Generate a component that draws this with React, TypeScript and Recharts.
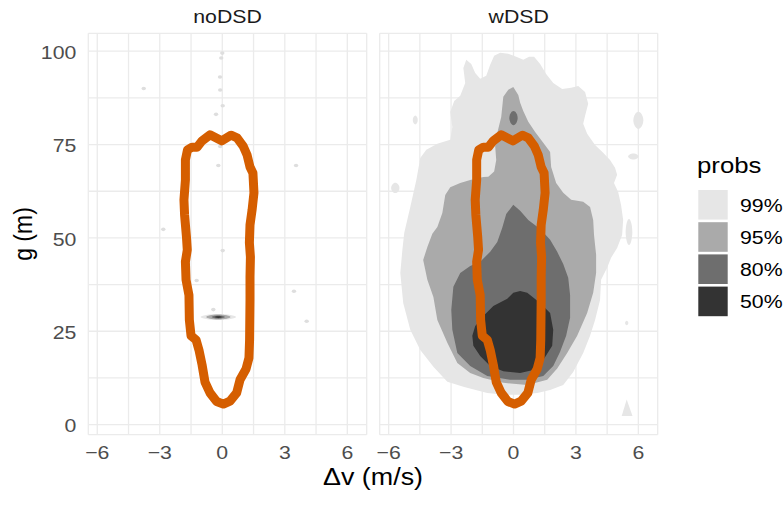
import React from 'react';
import { ComposedChart, Scatter, XAxis, YAxis, CartesianGrid, Curve } from 'recharts';

// ---------- data ----------
const facetNames = ['noDSD', 'wDSD'];
const xTicks = [-6, -4.5, -3, -1.5, 0, 1.5, 3, 4.5, 6];
const xLabelTicks = [-6, -3, 0, 3, 6];
const yTicks = [0, 12.5, 25, 37.5, 50, 62.5, 75, 87.5, 100];
const yLabelTicks = [0, 25, 50, 75, 100];
const xDomain = [-6.43, 6.93];
const yDomain = [-2.7, 104.8];
const xTitle = '\u0394v (m/s)';
const yTitle = 'g (m)';
const legendTitle = 'probs';
const probLevels = ['99%', '95%', '80%', '50%'];
const probColors = ['#E6E6E6', '#AAAAAA', '#6E6E6E', '#333333'];
const contourColor = '#D55E00';

// orange reference contour (same in both facets)
const refContour = [
  { x: -0.59, y: 77.6 }, { x: -0.03, y: 76.0 }, { x: 0.42, y: 77.5 }, { x: 0.71, y: 76.8 },
  { x: 1.01, y: 74.5 }, { x: 1.19, y: 72.2 }, { x: 1.33, y: 69.0 }, { x: 1.47, y: 67.4 },
  { x: 1.52, y: 62.1 }, { x: 1.43, y: 57.5 }, { x: 1.33, y: 53.5 }, { x: 1.30, y: 48.7 },
  { x: 1.35, y: 44.9 }, { x: 1.33, y: 39.6 }, { x: 1.33, y: 33.4 }, { x: 1.31, y: 22.7 },
  { x: 1.28, y: 17.9 }, { x: 1.14, y: 14.9 }, { x: 0.85, y: 12.0 }, { x: 0.69, y: 8.5 },
  { x: 0.37, y: 6.3 }, { x: 0.05, y: 5.5 }, { x: -0.27, y: 6.2 }, { x: -0.59, y: 8.5 },
  { x: -0.83, y: 11.4 }, { x: -0.97, y: 16.0 }, { x: -1.12, y: 20.0 }, { x: -1.26, y: 22.7 },
  { x: -1.50, y: 23.8 }, { x: -1.58, y: 28.0 }, { x: -1.60, y: 34.7 }, { x: -1.74, y: 38.8 },
  { x: -1.77, y: 43.6 }, { x: -1.68, y: 46.8 }, { x: -1.72, y: 50.3 }, { x: -1.81, y: 56.2 },
  { x: -1.84, y: 60.2 }, { x: -1.77, y: 65.5 }, { x: -1.77, y: 70.9 }, { x: -1.67, y: 73.6 },
  { x: -1.45, y: 74.3 }, { x: -1.21, y: 74.3 }, { x: -0.97, y: 76.0 },
];

// noDSD density: one narrow nested blob plus faint specks
const noDSD99 = [{ x: -1.47, y: 28.8 }, { x: -0.19, y: 30.0 }, { x: 1.09, y: 28.8 }, { x: -0.19, y: 27.6 }];
const noDSD95 = [{ x: -1.06, y: 28.8 }, { x: -0.19, y: 29.8 }, { x: 0.68, y: 28.8 }, { x: -0.19, y: 27.8 }];
const noDSD80 = [{ x: -0.66, y: 28.8 }, { x: -0.19, y: 29.45 }, { x: 0.28, y: 28.8 }, { x: -0.19, y: 28.15 }];
const noDSD50 = [{ x: -0.45, y: 28.8 }, { x: -0.19, y: 29.16 }, { x: 0.07, y: 28.8 }, { x: -0.19, y: 28.44 }];
const noDSDSpecks = [
  { x: 0.0, y: 99.5 }, { x: -0.05, y: 98.2 }, { x: -0.11, y: 93.1 }, { x: -0.1, y: 89.6 },
  { x: 0.02, y: 85.4 }, { x: -0.3, y: 83.1 }, { x: -0.1, y: 74.5 }, { x: -0.19, y: 69.4 },
  { x: 3.54, y: 69.4 }, { x: -2.83, y: 52.3 }, { x: 0.02, y: 46.6 }, { x: -3.77, y: 90.0 },
  { x: -1.23, y: 38.6 }, { x: 3.44, y: 35.7 }, { x: 4.05, y: 27.7 }, { x: -0.43, y: 30.8 },
];

// wDSD density regions
const wDSD99 = [
  { x: -2.27, y: 97.7 }, { x: -2.03, y: 96.6 }, { x: -1.84, y: 94.2 }, { x: -1.60, y: 92.6 },
  { x: -1.31, y: 93.4 }, { x: -1.12, y: 96.4 }, { x: -0.93, y: 98.8 }, { x: -0.64, y: 99.6 },
  { x: -0.25, y: 99.3 }, { x: 0.13, y: 98.5 }, { x: 0.47, y: 97.7 }, { x: 0.75, y: 98.5 },
  { x: 0.99, y: 98.5 }, { x: 1.28, y: 96.6 }, { x: 1.57, y: 93.9 }, { x: 1.91, y: 91.5 },
  { x: 2.34, y: 89.9 }, { x: 2.77, y: 90.2 }, { x: 3.11, y: 90.7 }, { x: 3.44, y: 89.1 },
  { x: 3.59, y: 85.9 }, { x: 3.44, y: 82.7 }, { x: 3.35, y: 80.6 }, { x: 3.54, y: 77.9 },
  { x: 3.92, y: 74.9 }, { x: 4.31, y: 72.8 }, { x: 4.64, y: 70.9 }, { x: 4.88, y: 68.8 },
  { x: 4.98, y: 66.9 }, { x: 4.83, y: 64.7 }, { x: 5.03, y: 62.3 }, { x: 5.17, y: 58.8 },
  { x: 5.27, y: 54.8 }, { x: 5.22, y: 50.8 }, { x: 4.98, y: 47.3 }, { x: 4.69, y: 44.7 },
  { x: 4.50, y: 42.0 }, { x: 4.21, y: 38.8 }, { x: 4.16, y: 33.4 }, { x: 3.92, y: 28.0 },
  { x: 3.68, y: 23.8 }, { x: 3.35, y: 19.2 }, { x: 2.87, y: 14.1 }, { x: 2.39, y: 10.6 },
  { x: 1.76, y: 9.3 }, { x: 1.14, y: 8.5 }, { x: 0.32, y: 8.0 }, { x: -0.40, y: 8.0 },
  { x: -1.26, y: 8.5 }, { x: -2.37, y: 10.1 }, { x: -3.18, y: 11.5 }, { x: -3.85, y: 15.5 },
  { x: -4.48, y: 20.0 }, { x: -4.96, y: 25.4 }, { x: -5.30, y: 32.6 }, { x: -5.44, y: 40.6 },
  { x: -5.34, y: 46.8 }, { x: -5.25, y: 51.4 }, { x: -4.96, y: 58.3 }, { x: -4.67, y: 65.5 },
  { x: -4.48, y: 71.4 }, { x: -4.19, y: 73.6 }, { x: -3.66, y: 75.2 }, { x: -3.04, y: 76.3 },
  { x: -2.94, y: 79.7 }, { x: -3.04, y: 83.7 }, { x: -2.85, y: 86.7 }, { x: -2.56, y: 88.1 },
  { x: -2.32, y: 91.5 }, { x: -2.41, y: 95.5 },
];
const wDSD95 = [
  { x: -0.01, y: 90.4 }, { x: 0.23, y: 88.3 }, { x: 0.32, y: 86.2 }, { x: 0.47, y: 84.0 },
  { x: 0.71, y: 81.1 }, { x: 1.04, y: 78.4 }, { x: 1.43, y: 75.5 }, { x: 1.76, y: 73.0 },
  { x: 1.81, y: 69.0 }, { x: 2.05, y: 64.7 }, { x: 2.39, y: 62.1 }, { x: 2.77, y: 60.2 },
  { x: 3.35, y: 59.7 }, { x: 3.68, y: 58.3 }, { x: 3.83, y: 54.8 }, { x: 3.87, y: 50.8 },
  { x: 3.97, y: 45.5 }, { x: 3.97, y: 40.6 }, { x: 3.83, y: 35.3 }, { x: 3.54, y: 29.9 },
  { x: 3.06, y: 23.8 }, { x: 2.58, y: 19.2 }, { x: 2.10, y: 15.0 }, { x: 1.62, y: 12.0 },
  { x: 0.66, y: 10.6 }, { x: -0.49, y: 11.2 }, { x: -1.45, y: 12.5 }, { x: -2.08, y: 13.8 },
  { x: -2.70, y: 16.5 }, { x: -3.18, y: 21.9 }, { x: -3.66, y: 28.0 }, { x: -3.85, y: 34.2 },
  { x: -4.14, y: 38.8 }, { x: -4.34, y: 44.1 }, { x: -4.14, y: 47.6 }, { x: -3.90, y: 51.1 },
  { x: -3.66, y: 52.9 }, { x: -3.42, y: 56.7 }, { x: -3.28, y: 61.5 }, { x: -3.04, y: 63.6 },
  { x: -2.56, y: 64.7 }, { x: -2.08, y: 65.5 }, { x: -1.45, y: 66.3 }, { x: -1.21, y: 66.4 },
  { x: -0.93, y: 67.8 }, { x: -0.83, y: 70.9 }, { x: -0.88, y: 74.5 }, { x: -0.78, y: 78.1 },
  { x: -0.59, y: 82.4 }, { x: -0.49, y: 87.8 }, { x: -0.25, y: 89.7 },
];
const wDSD80 = [
  { x: -0.01, y: 58.9 }, { x: 0.32, y: 57.3 }, { x: 0.71, y: 54.8 }, { x: 1.28, y: 52.4 },
  { x: 1.76, y: 49.5 }, { x: 2.10, y: 46.3 }, { x: 2.39, y: 43.0 }, { x: 2.63, y: 39.3 },
  { x: 2.72, y: 34.7 }, { x: 2.72, y: 28.6 }, { x: 2.53, y: 23.8 }, { x: 2.24, y: 19.5 },
  { x: 1.91, y: 15.7 }, { x: 1.43, y: 13.0 }, { x: 0.66, y: 12.0 }, { x: -0.16, y: 12.0 },
  { x: -1.26, y: 13.0 }, { x: -2.08, y: 15.7 }, { x: -2.70, y: 19.2 }, { x: -2.94, y: 25.4 },
  { x: -2.99, y: 30.7 }, { x: -2.89, y: 36.9 }, { x: -2.56, y: 40.6 }, { x: -2.08, y: 42.5 },
  { x: -1.60, y: 43.6 }, { x: -1.12, y: 46.3 }, { x: -0.78, y: 48.9 }, { x: -0.54, y: 52.7 },
  { x: -0.35, y: 56.4 },
];
const wDSD50 = [
  { x: -0.01, y: 35.3 }, { x: 0.32, y: 35.8 }, { x: 0.66, y: 35.3 }, { x: 1.28, y: 32.6 },
  { x: 1.76, y: 29.9 }, { x: 1.91, y: 25.4 }, { x: 1.86, y: 21.1 }, { x: 1.43, y: 17.3 },
  { x: 0.95, y: 14.6 }, { x: 0.32, y: 13.8 }, { x: -0.49, y: 14.3 }, { x: -1.12, y: 15.7 },
  { x: -1.60, y: 18.4 }, { x: -1.93, y: 21.1 }, { x: -1.98, y: 23.8 }, { x: -1.84, y: 26.4 },
  { x: -1.45, y: 29.1 }, { x: -0.97, y: 31.8 }, { x: -0.30, y: 33.7 },
];
// small isolated islands (control diamonds, smoothed)
const wDSDIslands99 = [
  [{ x: -5.98, y: 63.4 }, { x: -5.68, y: 65.5 }, { x: -5.38, y: 63.4 }, { x: -5.68, y: 61.3 }],
  [{ x: -4.90, y: 81.6 }, { x: -4.72, y: 83.4 }, { x: -4.54, y: 81.6 }, { x: -4.72, y: 79.8 }],
  [{ x: 5.64, y: 81.5 }, { x: 6.0, y: 84.95 }, { x: 6.36, y: 81.5 }, { x: 6.0, y: 78.05 }],
  [{ x: 5.38, y: 71.8 }, { x: 5.76, y: 73.0 }, { x: 6.14, y: 71.8 }, { x: 5.76, y: 70.6 }],
  [{ x: 5.31, y: 51.6 }, { x: 5.55, y: 56.85 }, { x: 5.79, y: 51.6 }, { x: 5.55, y: 46.35 }],
  [{ x: 5.32, y: 27.2 }, { x: 5.44, y: 28.1 }, { x: 5.56, y: 27.2 }, { x: 5.44, y: 26.3 }],
];
const wDSDWedge99 = [{ x: 5.44, y: 6.7 }, { x: 5.72, y: 2.3 }, { x: 5.2, y: 2.3 }];
const wDSDIsland80 = [{ x: -0.3, y: 82.1 }, { x: 0.0, y: 84.95 }, { x: 0.3, y: 82.1 }, { x: 0.0, y: 79.25 }];

// ---------- layout ----------
const W = 784;
const H = 506;
const P1L = 88.3, P1R = 366.7, P2L = 379.7, P2R = 657.7, PT = 33.3, PB = 434.7;
const SX = 1.12;
const FONT = '"Liberation Sans", Arial, Helvetica, sans-serif';
const Y_AXIS_W = 60;
const X_AXIS_H = 30;

const NoShape = () => <g />;

const poly = (key: string, data: any[], fill: string, curve: any = 'linearClosed', stroke = 'none', sw = 0) => (
  <Scatter
    key={key}
    data={data}
    dataKey="y"
    isAnimationActive={false}
    legendType="none"
    shape={NoShape}
    line={(p: any) => (
      <Curve
        points={p.points}
        type={curve}
        fill={fill}
        stroke={stroke}
        strokeWidth={sw}
        strokeLinejoin="round"
        strokeLinecap="round"
      />
    )}
  />
);

const fmt = (v: number) => (v < 0 ? '\u2212' + Math.abs(v) : String(v));

const XTick = (props: any) => {
  const { x, y, payload } = props;
  if (!xLabelTicks.includes(payload.value)) return <g />;
  return (
    <text
      transform={`translate(${x},${y + 24}) scale(${SX},1)`}
      textAnchor="middle"
      fontSize={19}
      fontFamily={FONT}
      fill="#4D4D4D"
    >
      {fmt(payload.value)}
    </text>
  );
};

const YTick = (props: any) => {
  const { x, y, payload } = props;
  if (!yLabelTicks.includes(payload.value)) return <g />;
  return (
    <text
      transform={`translate(${x - 12},${y + 1}) scale(${SX},1)`}
      textAnchor="end"
      dy="0.36em"
      fontSize={19}
      fontFamily={FONT}
      fill="#4D4D4D"
    >
      {fmt(payload.value)}
    </text>
  );
};

const axes = (showY: boolean) => [
  <CartesianGrid key="grid" stroke="#EBEBEB" strokeWidth={1.3} />,
  <XAxis
    key="x"
    type="number"
    dataKey="x"
    domain={xDomain}
    allowDataOverflow
    ticks={xTicks}
    interval={0}
    axisLine={false}
    tickLine={false}
    tickSize={0}
    tickMargin={0}
    height={X_AXIS_H}
    tick={<XTick />}
  />,
  <YAxis
    key="y"
    type="number"
    dataKey="y"
    domain={yDomain}
    allowDataOverflow
    ticks={yTicks}
    interval={0}
    axisLine={false}
    tickLine={false}
    tickSize={0}
    tickMargin={0}
    width={Y_AXIS_W}
    hide={!showY}
    tick={<YTick />}
  />,
];

export default function App() {
  const abs: React.CSSProperties = { position: 'absolute', left: 0, top: 0 };
  return (
    <div style={{ position: 'absolute', left: 0, top: 0, width: W, height: H, background: '#FFFFFF', overflow: 'hidden' }}>
      {/* facet 1: noDSD */}
      <div style={abs}>
        <ComposedChart
          width={W}
          height={H}
          margin={{ top: PT, left: P1L - Y_AXIS_W, right: W - P1R, bottom: H - PB - X_AXIS_H }}
        >
          {axes(true)}
          {poly('n99', noDSD99, probColors[0], 'basisClosed')}
          {poly('n95', noDSD95, probColors[1], 'basisClosed')}
          {poly('n80', noDSD80, probColors[2], 'basisClosed')}
          {poly('n50', noDSD50, probColors[3], 'basisClosed')}
          <Scatter
            data={noDSDSpecks}
            dataKey="y"
            isAnimationActive={false}
            legendType="none"
            shape={(p: any) => <ellipse cx={p.cx} cy={p.cy} rx={2.2} ry={1.8} fill="#DEDEDE" />}
          />
          {poly('nref', refContour, 'none', 'linearClosed', contourColor, 9)}
        </ComposedChart>
      </div>
      {/* facet 2: wDSD */}
      <div style={abs}>
        <ComposedChart
          width={W}
          height={H}
          margin={{ top: PT, left: P2L, right: W - P2R, bottom: H - PB - X_AXIS_H }}
        >
          {axes(false)}
          {poly('w99', wDSD99, probColors[0])}
          {wDSDIslands99.map((d, i) => poly('wi' + i, d, probColors[0], 'basisClosed'))}
          {poly('wwedge', wDSDWedge99, probColors[0])}
          {poly('w95', wDSD95, probColors[1])}
          {poly('wi80', wDSDIsland80, probColors[2], 'basisClosed')}
          {poly('w80', wDSD80, probColors[2])}
          {poly('w50', wDSD50, probColors[3])}
          {poly('wref', refContour, 'none', 'linearClosed', contourColor, 9)}
        </ComposedChart>
      </div>
      {/* titles and legend */}
      <svg width={W} height={H} style={{ ...abs, pointerEvents: 'none' }} fontFamily={FONT}>
        {facetNames.map((n, i) => (
          <text
            key={n}
            transform={`translate(${i === 0 ? (P1L + P1R) / 2 : (P2L + P2R) / 2},23) scale(${SX},1)`}
            textAnchor="middle"
            fontSize={19}
            fill="#1A1A1A"
          >
            {n}
          </text>
        ))}
        <text transform={`translate(${(P1L + P2R) / 2},485) scale(${SX},1)`} textAnchor="middle" fontSize={24} fill="#000000">
          {xTitle}
        </text>
        <text transform={`translate(32,${(PT + PB) / 2}) rotate(-90) scale(1,${SX})`} textAnchor="middle" fontSize={23} fill="#000000">
          {yTitle}
        </text>
        <text transform={`translate(697,173) scale(${SX},1)`} fontSize={23} fill="#000000">
          {legendTitle}
        </text>
        {probLevels.map((lv, i) => (
          <g key={lv}>
            <rect x={698.3} y={190 + i * 32.2} width={29.4} height={29.6} fill={probColors[i]} />
            <text transform={`translate(740,${190 + i * 32.2 + 14.8}) scale(${SX},1)`} dy="0.36em" fontSize={19} fill="#000000">
              {lv}
            </text>
          </g>
        ))}
      </svg>
    </div>
  );
}
